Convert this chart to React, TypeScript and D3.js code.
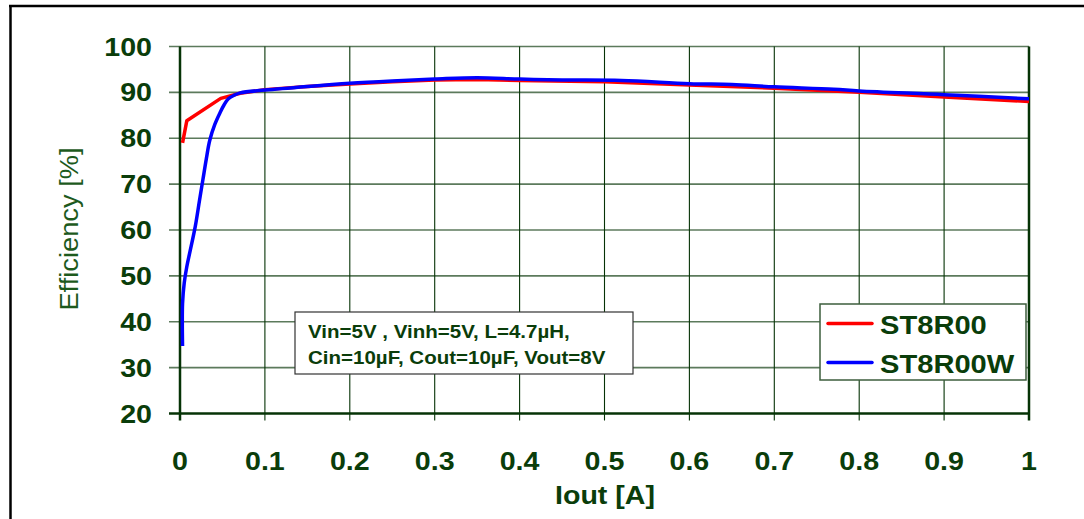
import React from "react";
import * as d3 from "d3";

// Efficiency vs output current, ST8R00 and ST8R00W
const xTicks = [0, 0.1, 0.2, 0.3, 0.4, 0.5, 0.6, 0.7, 0.8, 0.9, 1];
const yTicks = [20, 30, 40, 50, 60, 70, 80, 90, 100];

const st8r00Iout = [0.003, 0.008, 0.048, 0.071, 0.1, 0.15, 0.2, 0.25, 0.3, 0.35, 0.4, 0.5, 0.6, 0.7, 0.8, 0.9, 1.0];
const st8r00Eff = [79, 83.8, 88.7, 89.8, 90.6, 91.3, 91.8, 92.3, 92.7, 92.8, 92.6, 92.3, 91.6, 90.9, 90.0, 89.0, 88.0];

const st8r00wIout = [0.003, 0.003, 0.005, 0.008, 0.012, 0.018, 0.023, 0.027, 0.031, 0.035, 0.041, 0.047, 0.052, 0.057, 0.064, 0.071, 0.1, 0.15, 0.2, 0.25, 0.3, 0.35, 0.4, 0.45, 0.52, 0.6, 0.65, 0.7, 0.77, 0.8, 0.9, 1.0];
const st8r00wEff = [34.7, 44, 48.5, 52, 55.5, 60.8, 66.5, 71, 75.5, 79.5, 83, 85.5, 87.3, 88.6, 89.4, 89.9, 90.5, 91.3, 92.0, 92.5, 92.9, 93.2, 92.9, 92.7, 92.6, 91.9, 91.7, 91.2, 90.7, 90.3, 89.5, 88.6];

const seriesNames = ["ST8R00", "ST8R00W"];
const seriesColors = ["#ff0000", "#0000ff"];
const conditions = ["Vin=5V , Vinh=5V, L=4.7µH,", "Cin=10µF, Cout=10µF, Vout=8V"];

const W = 1084;
const H = 519;
const left = 180;
const right = 1029;
const top = 46.5;
const bottom = 413.5;

const textGreen = "#0a3d0a";
const axisGreen = "#063306";
const gridGreen = "#5c7a5c";
const font = "'Liberation Sans', Arial, sans-serif";

export default function App() {
  const x = d3.scaleLinear().domain([0, 1]).range([left, right]);
  const y = d3.scaleLinear().domain([20, 100]).range([bottom, top]);

  const redLine = d3
    .line<[number, number]>()
    .x((d) => x(d[0]))
    .y((d) => y(d[1]))
    .curve(d3.curveLinear);
  const blueLine = d3
    .line<[number, number]>()
    .x((d) => x(d[0]))
    .y((d) => y(d[1]))
    .curve(d3.curveCatmullRom.alpha(0.5));

  const redPts = st8r00Iout.map((v, i) => [v, st8r00Eff[i]] as [number, number]);
  const bluePts = st8r00wIout.map((v, i) => [v, st8r00wEff[i]] as [number, number]);

  const stretched = (tx: number, ty: number, sx = 1.1) => `translate(${tx},${ty}) scale(${sx},1)`;

  return (
    <svg
      width={W}
      height={H}
      style={{ position: "absolute", left: 0, top: 0, background: "#fff" }}
    >
      <rect x={0} y={0} width={W} height={H} fill="#fff" />
      {/* figure frame */}
      <line x1={10.5} y1={6} x2={10.5} y2={H} stroke="#000" strokeWidth={2.5} />
      <line x1={9} y1={6} x2={W} y2={6} stroke="#000" strokeWidth={2.5} />

      {/* horizontal grid */}
      {yTicks.map((t) => (
        <line
          key={"h" + t}
          x1={left - 11}
          x2={right}
          y1={y(t)}
          y2={y(t)}
          stroke={t === 20 ? axisGreen : gridGreen}
          strokeWidth={t === 20 ? 2.5 : 1.6}
        />
      ))}
      {/* vertical grid */}
      {xTicks.map((t) => (
        <line
          key={"v" + t}
          x1={x(t)}
          x2={x(t)}
          y1={top}
          y2={bottom + 7}
          stroke={axisGreen}
          strokeWidth={t === 0 || t === 1 ? 2.5 : 1.1}
        />
      ))}

      {/* y tick labels */}
      {yTicks.map((t) => (
        <text
          key={"yl" + t}
          transform={stretched(152, y(t), 1.1)}
          textAnchor="end"
          dominantBaseline="central"
          fontFamily={font}
          fontWeight="bold"
          fontSize={26}
          fill={textGreen}
        >
          {t}
        </text>
      ))}
      {/* x tick labels */}
      {xTicks.map((t) => (
        <text
          key={"xl" + t}
          transform={stretched(x(t), 470, 1.1)}
          textAnchor="middle"
          fontFamily={font}
          fontWeight="bold"
          fontSize={26}
          fill={textGreen}
        >
          {t}
        </text>
      ))}

      {/* axis titles */}
      <text
        transform={stretched(605, 504, 1.1)}
        textAnchor="middle"
        fontFamily={font}
        fontWeight="bold"
        fontSize={26}
        fill={textGreen}
      >
        Iout [A]
      </text>
      <text
        transform={`translate(78,229) rotate(-90) scale(1.05,1)`}
        textAnchor="middle"
        fontFamily={font}
        fontSize={26}
        fill="#1d5a1d"
      >
        Efficiency [%]
      </text>

      {/* curves */}
      <path d={redLine(redPts) || ""} fill="none" stroke={seriesColors[0]} strokeWidth={3.5} strokeLinejoin="round" />
      <path d={blueLine(bluePts) || ""} fill="none" stroke={seriesColors[1]} strokeWidth={3.5} strokeLinejoin="round" />

      {/* test conditions */}
      <rect x={295} y={312} width={338} height={62} fill="#fff" stroke="#333" strokeWidth={1.2} />
      {conditions.map((c, i) => (
        <text
          key={c}
          transform={stretched(308, 337.5 + i * 26, 1.14)}
          fontFamily={font}
          fontWeight="bold"
          fontSize={18}
          fill={textGreen}
        >
          {c}
        </text>
      ))}

      {/* legend */}
      <rect x={820} y={304} width={206} height={76} fill="#fff" stroke="#3d5d3d" strokeWidth={1.5} />
      {seriesNames.map((n, i) => (
        <g key={n}>
          <line
            x1={828}
            x2={872}
            y1={323.5 + i * 39}
            y2={323.5 + i * 39}
            stroke={seriesColors[i]}
            strokeWidth={3.5}
            strokeLinecap="round"
          />
          <text
            transform={stretched(880, 334 + i * 39, 1.12)}
            fontFamily={font}
            fontWeight="bold"
            fontSize={26}
            fill={textGreen}
          >
            {n}
          </text>
        </g>
      ))}
    </svg>
  );
}
